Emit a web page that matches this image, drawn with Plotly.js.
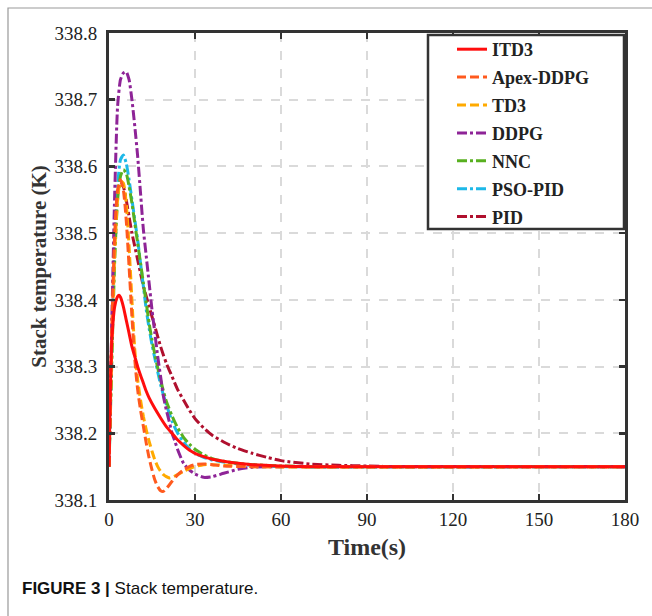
<!DOCTYPE html>
<html>
<head>
<meta charset="utf-8">
<script src="https://cdn.plot.ly/plotly-3.0.1.min.js"></script>
<style>html,body{margin:0;padding:0;background:#fff;}#chart{width:652px;height:616px;}</style>
</head>
<body>
<div id="chart"></div>
<script>
// ---- data ----
const seriesNames = ["ITD3","Apex-DDPG","TD3","DDPG","NNC","PSO-PID","PID"];

const tITD3 = [0,0.5,1,2,3,3.5,4,5,6,7,8,9,10,11,12,13,14,16,18,20,22,24,26,28,30,33,36,40,45,50,60,70,180];
const yITD3 = [338.15,338.27,338.34,338.39,338.405,338.407,338.404,338.39,338.37,338.35,338.33,338.315,338.3,338.287,338.275,338.263,338.253,338.237,338.223,338.21,338.2,338.19,338.182,338.175,338.17,338.165,338.161,338.158,338.155,338.153,338.151,338.15,338.15];

const tApex = [0,1,2,3,4,5,6,7,8,9,10,11,12,13,14,15,16,17,18,19,20,22,24,26,28,30,33,36,40,50,180];
const yApex = [338.15,338.36,338.5,338.565,338.58,338.565,338.52,338.45,338.375,338.31,338.265,338.235,338.21,338.185,338.163,338.145,338.13,338.12,338.114,338.113,338.117,338.128,338.138,338.145,338.15,338.153,338.154,338.153,338.151,338.15,338.15];

const tTD3 = [0,1,2,3,4,5,6,7,8,9,10,11,12,13,14,15,16,17,18,19,20,21,22,24,26,28,30,33,36,40,50,180];
const yTD3 = [338.15,338.33,338.47,338.55,338.578,338.575,338.545,338.48,338.4,338.325,338.28,338.25,338.225,338.205,338.188,338.173,338.16,338.15,338.143,338.138,338.135,338.133,338.134,338.138,338.143,338.147,338.15,338.153,338.153,338.152,338.15,338.15];

const tDDPG = [0,1,2,3,4,5,6,7,8,9,10,11,12,13,14,15,16,17,18,19,20,21,22,23,24,26,28,30,33,36,40,45,50,60,180];
const yDDPG = [338.15,338.37,338.56,338.69,338.73,338.74,338.742,338.73,338.7,338.66,338.615,338.56,338.505,338.465,338.425,338.385,338.35,338.315,338.285,338.255,338.235,338.218,338.2,338.188,338.175,338.155,338.145,338.139,338.134,338.135,338.14,338.146,338.149,338.15,338.15];

const tNNC = [0,1,2,3,4,5,6,7,8,9,10,11,12,13,14,15,16,17,18,19,20,22,24,26,28,30,33,36,40,45,50,60,70,180];
const yNNC = [338.15,338.31,338.46,338.55,338.585,338.595,338.59,338.57,338.545,338.515,338.485,338.455,338.425,338.395,338.365,338.34,338.318,338.298,338.28,338.263,338.248,338.226,338.208,338.194,338.184,338.176,338.168,338.162,338.158,338.155,338.153,338.151,338.15,338.15];

const tPSO = [0,1,2,3,4,5,6,7,8,9,10,11,12,13,14,15,16,17,18,19,20,22,24,26,28,30,33,36,40,45,50,60,180];
const yPSO = [338.15,338.33,338.48,338.57,338.61,338.617,338.605,338.58,338.55,338.52,338.49,338.455,338.42,338.385,338.357,338.333,338.312,338.292,338.273,338.257,338.243,338.218,338.2,338.187,338.177,338.17,338.164,338.16,338.157,338.154,338.152,338.15,338.15];

const tPID = [0,1,2,3,4,5,6,7,8,9,10,11,12,13,14,15,16,17,18,19,20,22,24,26,28,30,33,36,40,45,50,55,60,70,80,90,100,180];
const yPID = [338.15,338.35,338.5,338.56,338.577,338.57,338.55,338.525,338.5,338.48,338.46,338.44,338.42,338.405,338.39,338.375,338.36,338.345,338.33,338.317,338.305,338.285,338.265,338.25,338.235,338.222,338.208,338.197,338.187,338.177,338.17,338.164,338.159,338.154,338.152,338.151,338.15,338.15];

const xTicks = [0,30,60,90,120,150,180];
const yTicks = [338.1,338.2,338.3,338.4,338.5,338.6,338.7,338.8];
const xTickText = ["0","30","60","90","120","150","180"];
const yTickText = ["338.1","338.2","338.3","338.4","338.5","338.6","338.7","338.8"];

// ---- styling ----
const colors = ["#FF0D0D","#FF5A1E","#FFAA00","#8E2497","#58B020","#1DB8E8","#B0102E"];
const dashes = ["solid","9px,4px","9px,4px","10px,3px,3px,3px","10px,3px,3px,3px","10px,3px,3px,3px","10px,3px,3px,3px"];
const xs = [tITD3,tApex,tTD3,tDDPG,tNNC,tPSO,tPID];
const ys = [yITD3,yApex,yTD3,yDDPG,yNNC,yPSO,yPID];

const drawOrder = [6,5,4,3,2,1,0]; // draw ITD3 on top
const traces = seriesNames.map((n,i)=>({
  x: xs[i], y: ys[i], name: n, type: 'scatter', mode: 'lines',
  legendgroup: 'g'+i, legendrank: i+1,
  line: {color: colors[i], width: 3, dash: dashes[i], shape: 'spline', smoothing: 0.6}
}));
const ordered = drawOrder.map(i=>traces[i]);

// plot area in px: x 109..625, y 33..500
const L=109, R=625, T=33, B=500, W=652, H=616;
const px = v => (v-L)/(R-L);
const py = v => (B-v)/(B-T);

const serif = "Liberation Serif, Times New Roman, serif";
const layout = {
  width: W, height: H,
  margin: {l: L, r: W-R, t: T, b: H-B, pad: 0},
  paper_bgcolor: '#fff', plot_bgcolor: '#fff',
  showlegend: true,
  legend: {
    x: px(452), y: py(31), xanchor: 'left', yanchor: 'top',
    bgcolor: 'rgba(0,0,0,0)', borderwidth: 0,
    font: {family: serif, size: 18, color: '#222', weight: 'bold'},
    tracegroupgap: 1.5, traceorder: 'grouped'
  },
  xaxis: {
    range: [0,180], tickvals: xTicks, ticktext: xTickText,
    showline: true, linecolor: '#333', linewidth: 3, mirror: 'ticks',
    ticks: 'inside', ticklen: 6, tickwidth: 2.5, tickcolor: '#333',
    showgrid: true, gridcolor: '#DADADA', gridwidth: 2, griddash: 'dash',
    zeroline: false, ticklabelstandoff: 0,
    tickfont: {family: serif, size: 19, color: '#222'},
    title: {text: 'Time(s)', font: {family: serif, size: 24, color: '#333', weight: 'bold'}, standoff: 10}
  },
  yaxis: {
    range: [338.1,338.8], tickvals: yTicks, ticktext: yTickText,
    showline: true, linecolor: '#333', linewidth: 3, mirror: 'ticks',
    ticks: 'inside', ticklen: 6, tickwidth: 2.5, tickcolor: '#333',
    showgrid: true, gridcolor: '#DADADA', gridwidth: 2, griddash: 'dash',
    zeroline: false, ticklabelstandoff: 5,
    tickfont: {family: serif, size: 19, color: '#222'},
    title: {text: 'Stack temperature (K)', font: {family: serif, size: 21, color: '#333', weight: 'bold'}, standoff: 3}
  },
  shapes: [
    {type: 'rect', xref: 'paper', yref: 'paper', x0: px(428), x1: px(624), y0: py(229), y1: py(35),
     fillcolor: '#fff', line: {color: '#333', width: 2.5}, layer: 'above'},
    {type: 'path', xref: 'paper', yref: 'paper',
     path: `M ${px(8)} ${py(616)} L ${px(8)} ${py(8)} L ${px(652)} ${py(8)}`,
     line: {color: '#999', width: 1.2}}
  ],
  annotations: [
    {xref: 'paper', yref: 'paper', x: px(20), y: py(588), xanchor: 'left', yanchor: 'middle',
     showarrow: false, align: 'left',
     text: '<b>FIGURE 3 |</b> Stack temperature.',
     font: {family: 'Liberation Sans, Arial, sans-serif', size: 17, color: '#111'}}
  ]
};

Plotly.newPlot('chart', ordered, layout, {displayModeBar: false, staticPlot: true});
</script>
</body>
</html>
